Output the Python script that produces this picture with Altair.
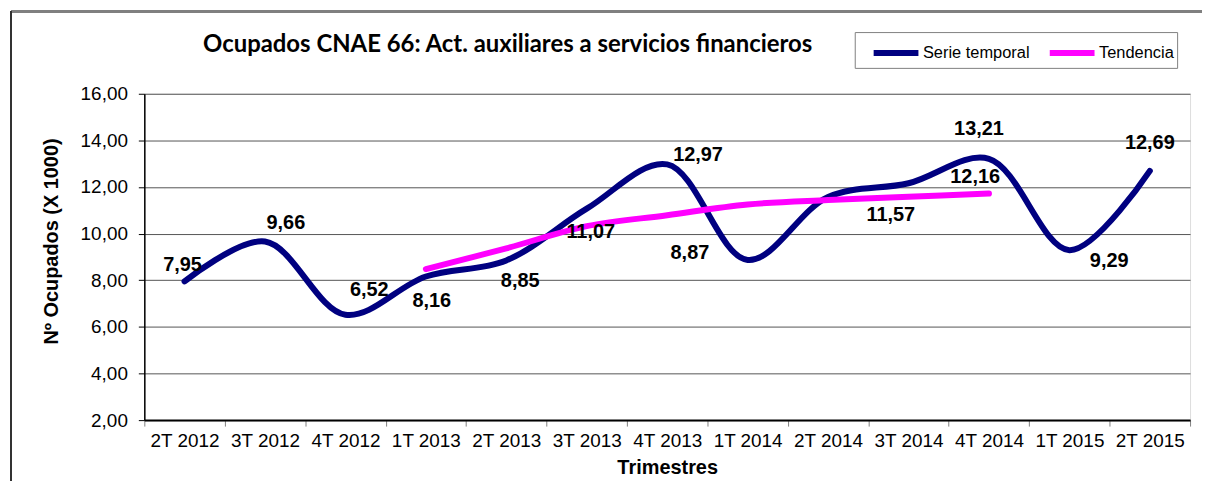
import altair as alt
import pandas as pd

categories = ["2T 2012", "3T 2012", "4T 2012", "1T 2013", "2T 2013", "3T 2013", "4T 2013",
              "1T 2014", "2T 2014", "3T 2014", "4T 2014", "1T 2015", "2T 2015"]
serie_values = [7.95, 9.66, 6.52, 8.16, 8.85, 11.07, 12.97, 8.87, 11.57, 12.16, 13.21, 9.29, 12.69]
trend_categories = ["1T 2013", "2T 2013", "3T 2013", "4T 2013", "1T 2014", "2T 2014", "3T 2014", "4T 2014"]
trend_values = [8.48, 9.37, 10.32, 10.79, 11.25, 11.44, 11.58, 11.72]
series_names = ["Serie temporal", "Tendencia"]
series_colors = ["#000080", "#FF00FF"]

rows = [{"cat": c, "val": v, "series": series_names[0]} for c, v in zip(categories, serie_values)]
rows += [{"cat": c, "val": v, "series": series_names[1]} for c, v in zip(trend_categories, trend_values)]
df = pd.DataFrame(rows)
df["label"] = df["val"].map(lambda v: f"{v:.2f}".replace(".", ","))

# label offsets (pixel styling, per category) for the Excel-style data labels
label_offsets = {
    "2T 2012": (-2, -16), "3T 2012": (21, -19), "4T 2012": (24, -25), "1T 2013": (6, 25),
    "2T 2013": (14, 21), "3T 2013": (4, 23), "4T 2013": (31, -9), "1T 2014": (-58, -7),
    "2T 2014": (63, 18), "3T 2014": (67, -6), "4T 2014": (-10, -30), "1T 2015": (40, 11),
    "2T 2015": (0, -28),
}

FONT = "Liberation Sans"
W, H = 1051, 328

xenc = alt.X("cat:N", sort=categories, bandPosition=0.5,
             scale=alt.Scale(type="band", paddingInner=0, paddingOuter=0),
             axis=alt.Axis(title="Trimestres", tickBand="extent", labelAngle=0,
                           labelFont=FONT, labelFontSize=19, labelColor="black",
                           labelPadding=6, tickSize=6, tickColor="#808080",
                           domainColor="black", domainWidth=2,
                           titleFont=FONT, titleFontSize=20, titleFontWeight="bold",
                           titleColor="black", titleY=48, titleBaseline="middle"))
yscale = alt.Scale(domain=[2, 16], nice=False, zero=False)
yaxis = alt.Axis(title="Nº Ocupados (X 1000)", values=[2, 4, 6, 8, 10, 12, 14, 16],
                 labelExpr="replace(format(datum.value, '.2f'), '.', ',')",
                 labelFont=FONT, labelFontSize=19, labelColor="black", labelPadding=11,
                 tickSize=6, tickColor="black", domainColor="black", domainWidth=1.5,
                 gridColor="#555555", gridWidth=1,
                 titleFont=FONT, titleFontSize=20, titleFontWeight="bold", titleColor="black",
                 titleX=-93, titleY=148, titleAngle=-90, titleBaseline="middle")

base = alt.Chart(df)

lines = base.mark_line(strokeWidth=6, interpolate="catmull-rom", strokeCap="round").encode(
    x=xenc,
    y=alt.Y("val:Q", scale=yscale, axis=yaxis),
    color=alt.Color("series:N", sort=series_names,
                    scale=alt.Scale(domain=series_names, range=series_colors),
                    legend=alt.Legend(title=None, orient="none", legendX=714, legendY=-62,
                                      direction="horizontal", columns=2,
                                      symbolType="M-1.5,0H1.5", symbolSize=900,
                                      symbolOffset=20.5,
                                      symbolStrokeWidth=6, labelFont=FONT, labelFontSize=16.5,
                                      labelColor="black", labelOffset=9, columnPadding=4,
                                      strokeColor="#808080", fillColor="white",
                                      padding=3)),
    order=alt.Order("series:N"),
)

text_layers = []
for cat, (dx, dy) in label_offsets.items():
    t = base.transform_filter(
        (alt.datum.series == series_names[0]) & (alt.datum.cat == cat)
    ).mark_text(font=FONT, fontSize=20, fontWeight="bold", color="black",
                dx=dx, dy=dy, align="center", baseline="middle").encode(
        x=alt.X("cat:N", sort=categories, bandPosition=0.5),
        y=alt.Y("val:Q", scale=yscale),
        text="label:N",
    )
    text_layers.append(t)

frame_top = alt.Chart(df).mark_rule(color="#808080", strokeWidth=2).encode(
    x=alt.value(-134), x2=alt.value(1070), y=alt.value(-83))
frame_left = alt.Chart(df).mark_rule(color="#333333", strokeWidth=1.5).encode(
    x=alt.value(-134), y=alt.value(-83), y2=alt.value(400))

chart = alt.layer(frame_top, frame_left, lines, *text_layers).properties(
    width=W, height=H,
    title=alt.Title("Ocupados CNAE 66: Act. auxiliares a servicios financieros",
                    anchor="start", dx=194, offset=0, dy=47, font="Lato", fontSize=24,
                    fontWeight="bold", color="black"),
    autosize=alt.AutoSizeParams(type="none"),
    padding={"left": 137, "top": 85, "right": 12, "bottom": 60},
).configure_view(fill="#99CCFF", stroke="#808080", strokeWidth=2).configure(background="white")

chart.save("out.html", embed_options={"renderer": "svg", "actions": False})
